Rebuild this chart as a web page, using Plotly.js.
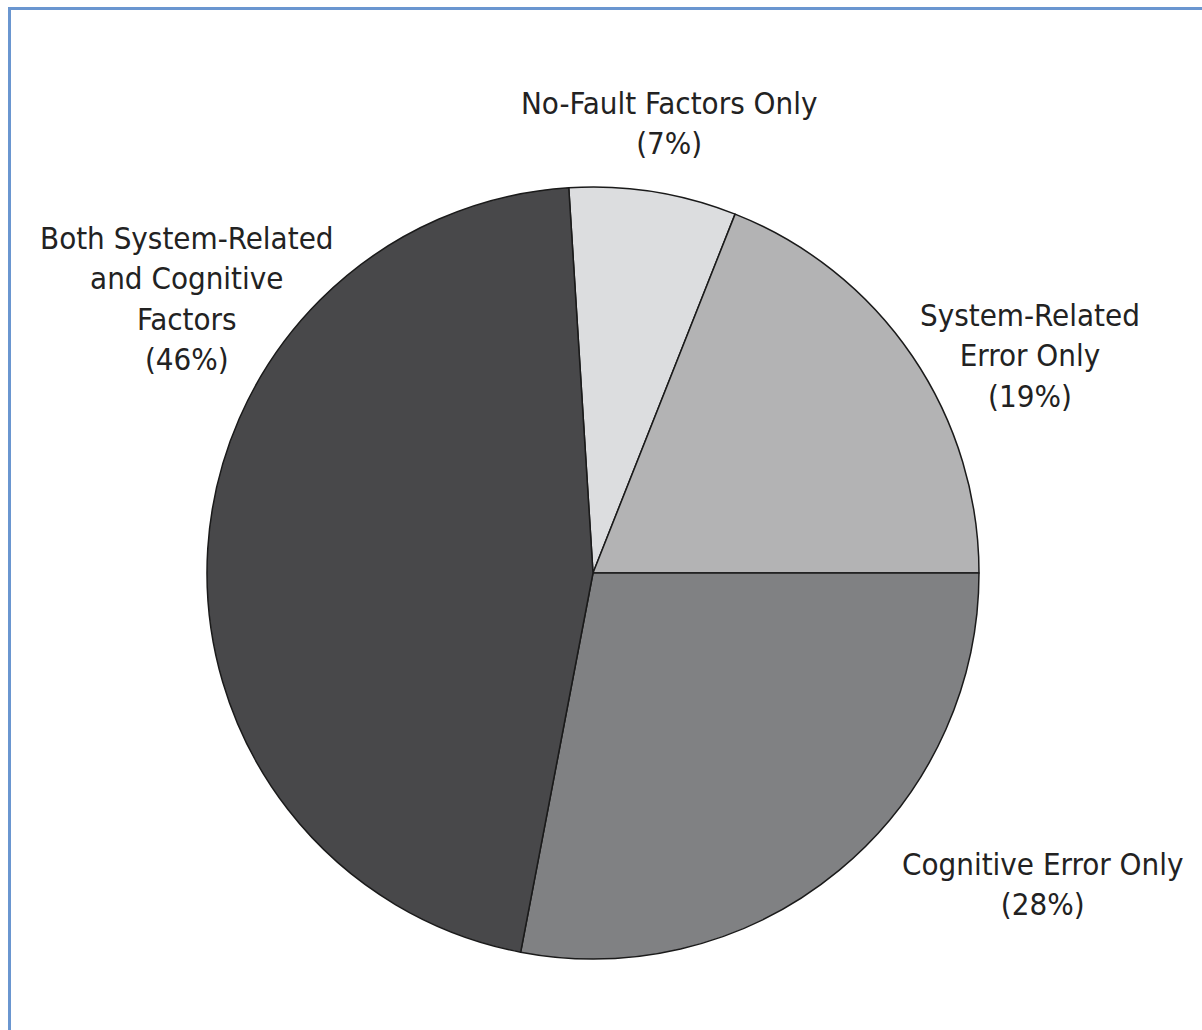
<!DOCTYPE html>
<html>
<head>
<meta charset="utf-8">
<script src="https://cdn.plot.ly/plotly-3.0.1.min.js"></script>
<style>html,body{margin:0;padding:0;background:#fff;}#chart{width:1202px;height:1030px;}</style>
</head>
<body>
<div id="chart"></div>
<script>
const categories = ["No-Fault Factors Only", "System-Related Error Only", "Cognitive Error Only", "Both System-Related and Cognitive Factors"];
const labelLines = ["No-Fault Factors Only", "System-Related<br>Error Only", "Cognitive Error Only", "Both System-Related<br>and Cognitive<br>Factors"];
const percents = [7, 19, 28, 46];
const colors = ["#dcdddf", "#b3b3b4", "#808183", "#48484a"];

const W = 1202, H = 1030;
const cx = 593, cy = 573, R = 386;

const labelPos = [
  {x: 669, y: 123},
  {x: 1030, y: 355},
  {x: 1042, y: 884},
  {x: 187, y: 298}
];

const annotations = categories.map((c, i) => ({
  xref: 'paper', yref: 'paper',
  x: labelPos[i].x / W, y: 1 - labelPos[i].y / H,
  xanchor: 'center', yanchor: 'middle',
  text: labelLines[i] + '<br>(' + percents[i] + '%)',
  showarrow: false, align: 'center',
  font: {family: '"Liberation Sans Narrow", "DejaVu Sans Condensed", "Arial Narrow", sans-serif', size: 31, color: '#222222'}
}));

const trace = {
  type: 'pie',
  labels: categories,
  values: percents,
  sort: false,
  direction: 'clockwise',
  rotation: -3.6,
  textinfo: 'none',
  hoverinfo: 'label+percent',
  marker: {colors: colors, line: {color: '#1a1a1a', width: 1.5}},
  domain: {x: [(cx - R) / W, (cx + R) / W], y: [(H - cy - R) / H, (H - cy + R) / H]},
  showlegend: false
};

const layout = {
  width: W, height: H,
  margin: {l: 0, r: 0, t: 0, b: 0},
  paper_bgcolor: '#ffffff',
  showlegend: false,
  annotations: annotations,
  shapes: [
    {type: 'line', xref: 'paper', yref: 'paper', x0: 9.5 / W, x1: 9.5 / W, y0: 0, y1: 1 - 8 / H, line: {color: '#6a96d0', width: 3}},
    {type: 'line', xref: 'paper', yref: 'paper', x0: 8 / W, x1: 1, y0: 1 - 8.5 / H, y1: 1 - 8.5 / H, line: {color: '#6a96d0', width: 3}}
  ]
};

Plotly.newPlot('chart', [trace], layout, {displayModeBar: false, staticPlot: true});
</script>
</body>
</html>
